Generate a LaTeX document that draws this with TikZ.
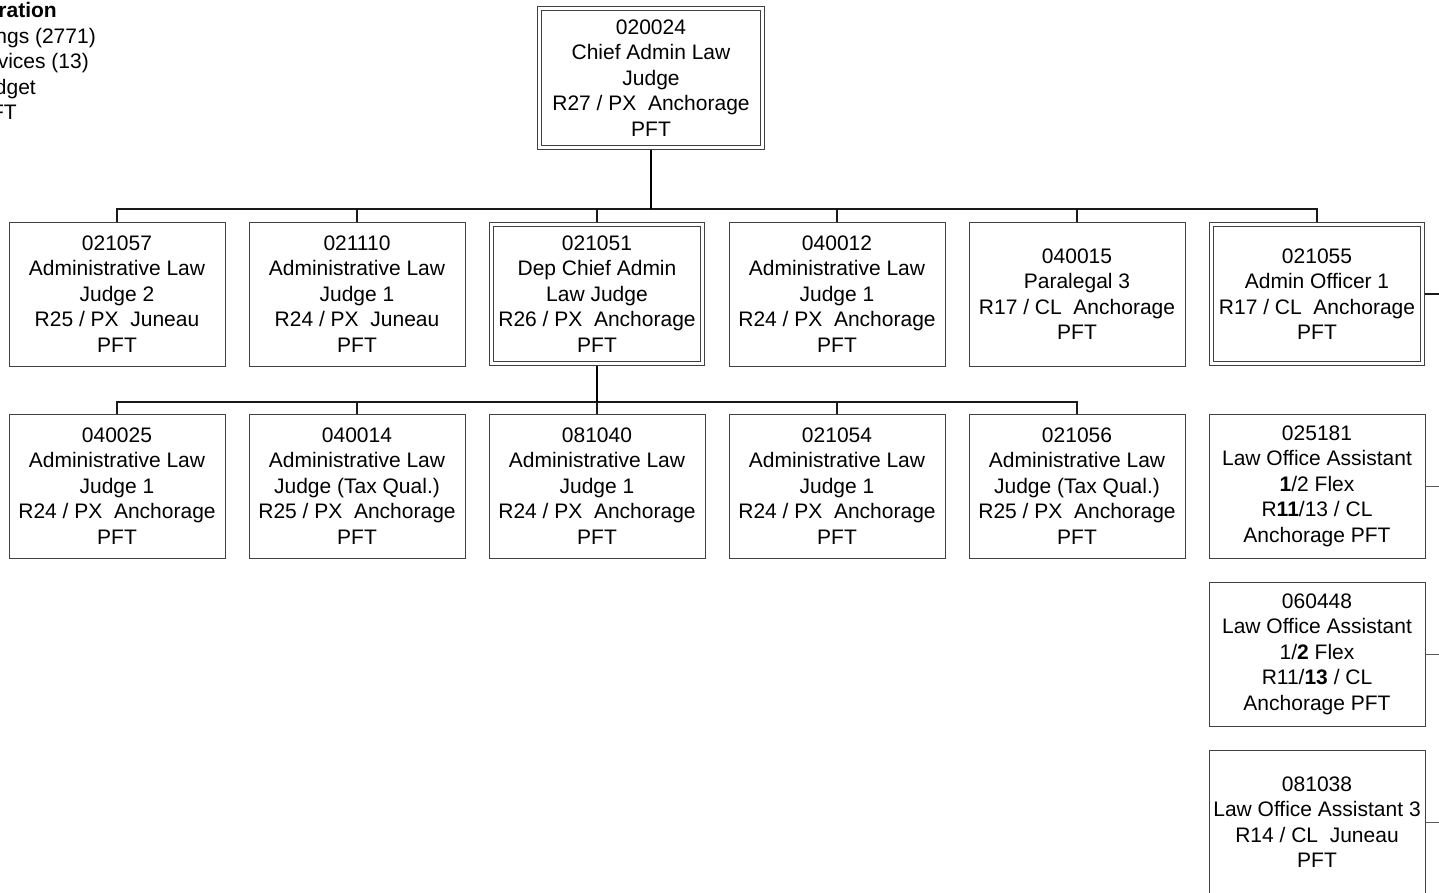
\documentclass[tikz,border=0pt]{standalone}
\usepackage{fontspec}
\setmainfont{Liberation Sans}
\usepackage{tikz}

\begin{document}
\begin{tikzpicture}[x=1pt, y=-1pt,
	box/.style={draw=black!75, line width=0.9pt, minimum width=216pt, minimum height=144pt, inner sep=0pt, align=center, font=\fontsize{21}{25.5}\selectfont},
	dblbox/.style={box, double, double distance=3pt, minimum width=211.2pt, minimum height=139.2pt, outer sep=2.4pt},
	legend/.style={anchor=base east, inner sep=0pt, font=\fontsize{21}{25.5}\selectfont},
	link/.style={draw=black!90, line width=1.2pt},
	stub/.style={draw=black!65, line width=0.9pt},
	mainlink/.style={draw=black, line width=1.7pt}]
		\useasboundingbox (0,0) rectangle (1439,892);
		\clip (0,0) rectangle (1439,892);
		% cut-off legend
		\node[legend] (lg1) at (57,17.5) {\textbf{ration}};
		\node[legend] (lg2) at (96,43) {ngs (2771)};
		\node[legend] (lg3) at (89,68.5) {vices (13)};
		\node[legend] (lg4) at (36,94) {dget};
		\node[legend] (lg5) at (17,119.5) {FT};
		% top
		\node[dblbox, minimum width=223.2pt] (chief) at (651,78) {020024\\Chief Admin Law\\Judge\\R27 / PX~~Anchorage\\PFT};
		% first row
		\node[box] (alj2) at (117,294) {021057\\Administrative Law\\Judge 2\\R25 / PX~~Juneau\\PFT};
		\node[box] (aljA) at (357,294) {021110\\Administrative Law\\Judge 1\\R24 / PX~~Juneau\\PFT};
		\node[dblbox] (dep) at (597,294) {021051\\Dep Chief Admin\\Law Judge\\R26 / PX~~Anchorage\\PFT};
		\node[box] (aljB) at (837,294) {040012\\Administrative Law\\Judge 1\\R24 / PX~~Anchorage\\PFT};
		\node[box] (para) at (1077,294) {040015\\Paralegal 3\\R17 / CL~~Anchorage\\PFT};
		\node[dblbox] (admin) at (1317,294) {021055\\Admin Officer 1\\R17 / CL~~Anchorage\\PFT};
		% second row
		\node[box] (aljC) at (117,486) {040025\\Administrative Law\\Judge 1\\R24 / PX~~Anchorage\\PFT};
		\node[box] (taxA) at (357,486) {040014\\Administrative Law\\Judge (Tax Qual.)\\R25 / PX~~Anchorage\\PFT};
		\node[box] (aljD) at (597,486) {081040\\Administrative Law\\Judge 1\\R24 / PX~~Anchorage\\PFT};
		\node[box] (aljE) at (837,486) {021054\\Administrative Law\\Judge 1\\R24 / PX~~Anchorage\\PFT};
		\node[box] (taxB) at (1077,486) {021056\\Administrative Law\\Judge (Tax Qual.)\\R25 / PX~~Anchorage\\PFT};
		% assistants
		\node[box] (loaA) at (1317,486) {025181\\Law Office Assistant\\\textbf{1}/2 Flex\\R\textbf{11}/13 / CL\\Anchorage PFT};
		\node[box] (loaB) at (1317,654) {060448\\Law Office Assistant\\1/\textbf{2} Flex\\R11/\textbf{13} / CL\\Anchorage PFT};
		\node[box] (loaC) at (1317,822) {081038\\Law Office Assistant 3\\R14 / CL~~Juneau\\PFT};
		% lines
		\coordinate (bus1) at (651,209);
		\coordinate (bus2) at (597,402);
		\coordinate (rim) at (1439,0);
		\foreach \n in {alj2,aljA,dep,aljB,para,admin}
			\draw[link] (bus1) -| (\n.north);
		\foreach \n in {aljC,taxA,aljD,aljE,taxB}
			\draw[link] (bus2) -| (\n.north);
		\draw[mainlink] (chief.south) -- (bus1);
		\draw[mainlink] (dep.south) -- (bus2);
		\draw[link] (admin.east) -- (admin.east -| rim);
		\foreach \n in {loaA,loaB,loaC}
			\draw[stub] (\n.east) -- (\n.east -| rim);
\end{tikzpicture}
\end{document}
